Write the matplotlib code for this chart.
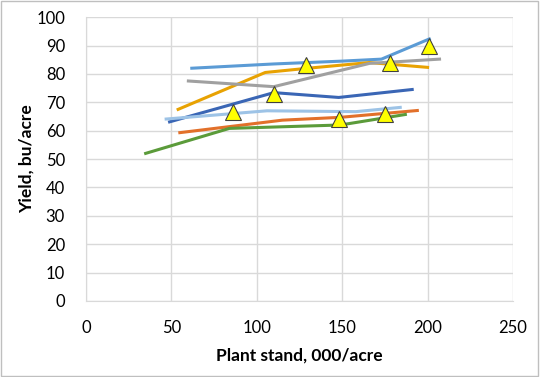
import matplotlib.pyplot as plt
from matplotlib.patches import Rectangle

plt.rcParams['font.family'] = ['Lato', 'DejaVu Sans']

# yield response curves (plant stand in 000/acre, yield in bu/acre)
blue_x = [62, 110, 150, 173, 201]
blue_y = [82, 83.5, 84.5, 85.2, 92.3]
gold_x = [54, 105, 130, 166, 200]
gold_y = [67.5, 80.5, 82, 84, 82.3]
gray_x = [60, 110, 166, 207]
gray_y = [77.5, 75.5, 83.7, 85.2]
dblue_x = [49, 110, 148, 191]
dblue_y = [63.1, 73.4, 71.7, 74.5]
lblue_x = [47, 106, 158, 184]
lblue_y = [64.1, 67.0, 66.7, 68.2]
orange_x = [55, 115, 149, 194]
orange_y = [59.3, 63.7, 64.7, 67.1]
green_x = [35, 84, 149, 187]
green_y = [52.0, 60.8, 62.0, 65.7]

# optimum points (yellow triangles)
opt_x = [86, 110, 129, 148, 175, 178, 201]
opt_y = [66.5, 73, 83, 64, 66, 84, 90]

fig = plt.figure(figsize=(5.4, 3.77), dpi=100)
ax = fig.add_axes([0.159, 0.2016, 0.791, 0.753])

lw = 2.2
ax.plot(blue_x, blue_y, color='#5B9BD5', lw=lw)
ax.plot(gold_x, gold_y, color='#E8A202', lw=lw)
ax.plot(gray_x, gray_y, color='#A0A0A0', lw=lw)
ax.plot(dblue_x, dblue_y, color='#3A66B5', lw=lw)
ax.plot(lblue_x, lblue_y, color='#9DC3E6', lw=lw)
ax.plot(orange_x, orange_y, color='#E2702A', lw=lw)
ax.plot(green_x, green_y, color='#5B9B3A', lw=lw)
ax.plot(opt_x, opt_y, linestyle='none', marker='^', markersize=11,
        markerfacecolor='#FFFF00', markeredgecolor='#404040',
        markeredgewidth=0.8, zorder=5)

ax.set_xlim(0, 250)
ax.set_ylim(0, 100)
ax.set_xticks(range(0, 251, 50))
ax.set_yticks(range(0, 101, 10))
ax.grid(True, color='#D9D9D9', lw=1)
ax.set_axisbelow(True)
for s in ['top', 'right']:
    ax.spines[s].set_visible(False)
for s in ['left', 'bottom']:
    ax.spines[s].set_color('#D9D9D9')
ax.tick_params(length=0, labelsize=12, colors='#000000')
ax.tick_params(axis='x', pad=14)
ax.tick_params(axis='y', pad=15)
ax.set_xlabel('Plant stand, 000/acre', fontsize=12.5, fontweight='bold', labelpad=8)
ax.set_ylabel('Yield, bu/acre', fontsize=12.5, fontweight='bold', labelpad=1)

fig.patches.append(Rectangle((0.002, 0.003), 0.995, 0.994, transform=fig.transFigure,
                             fill=False, edgecolor='#BFBFBF', lw=1))

fig.savefig('out.png', dpi=100)
